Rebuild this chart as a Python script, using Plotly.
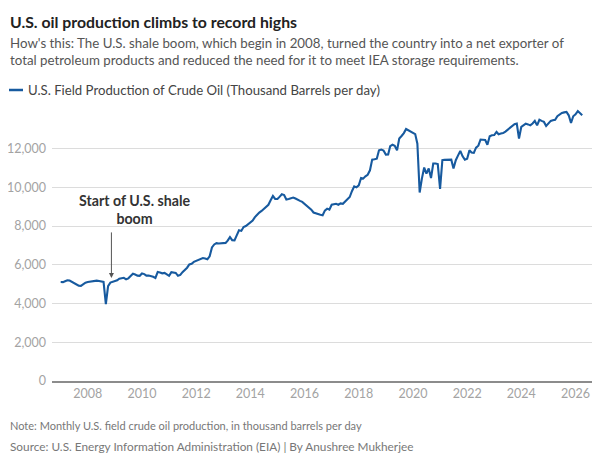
import pandas as pd
import plotly.graph_objects as go

# monthly U.S. field crude oil production, thousand barrels per day
start_month = "2007-01-01"
production = [
    # 2007
    5110, 5105, 5150, 5200, 5190, 5130, 5060, 4990, 4920, 4910, 5000, 5080,
    # 2008
    5110, 5130, 5150, 5170, 5180, 5160, 5150, 5120, 3970, 4900, 5080, 5120,
    # 2009
    5170, 5200, 5280, 5290, 5330, 5250, 5300, 5420, 5540, 5500, 5440, 5430,
    # 2010
    5550, 5520, 5440, 5450, 5430, 5380, 5320, 5630, 5600, 5560, 5580, 5520,
    # 2011
    5430, 5620, 5600, 5580, 5430, 5480, 5620, 5720, 5850, 6020, 6050, 6150,
    # 2012
    6200, 6270, 6300, 6350, 6330, 6290, 6440, 6900, 7050, 7120, 7100, 7100,
    # 2013
    7100, 7130, 7250, 7430, 7270, 7260, 7520, 7780, 7750, 7950, 8000, 8100,
    # 2014
    8200, 8280, 8450, 8610, 8700, 8780, 8880, 8990, 9100, 9330, 9550, 9400,
    # 2015
    9400, 9520, 9640, 9600, 9370, 9400, 9440, 9470, 9420, 9380, 9300, 9250,
    # 2016
    9150, 9040, 8980, 8850, 8700, 8650, 8640, 8580, 8560, 8800, 8900, 8850,
    # 2017
    9100, 9120, 9150, 9100, 9170, 9150, 9250, 9380, 9500, 9800, 10050, 10000,
    # 2018
    10100, 10480, 10450, 10570, 10650, 10880, 11430, 11450, 11480, 11910, 11950, 11900,
    # 2019
    11690, 11700, 12130, 12200, 12150, 11910, 12520, 12650, 12800, 13010, 12950, 12900,
    # 2020
    12850, 12750, 12250, 9730, 10450, 11020, 10710, 10970, 10480, 11230, 11230, 11200,
    # 2021
    9920, 11400, 11420, 11430, 11430, 11430, 10970, 11400, 11650, 11880, 11600, 11430,
    # 2022
    11480, 11910, 11800, 11780, 12050, 12150, 12470, 12470, 12450, 12200, 12640, 12690,
    # 2023
    12700, 12860, 12740, 12780, 12800, 12880, 12980, 13050, 13150, 13260, 13290, 12520,
    # 2024
    13120, 13200, 13290, 13250, 13200, 13300, 13430, 13200, 13490, 13430, 13380, 13170,
    # 2025
    13300, 13430, 13460, 13490, 13670, 13760, 13840, 13870, 13890, 13720, 13320, 13670,
    # 2026
    13770, 13940, 13850, 13720,
]
months = pd.date_range(start_month, periods=len(production), freq="MS")

year_ticks = [f"{y}-01-01" for y in range(2008, 2027, 2)]
year_labels = [str(y) for y in range(2008, 2027, 2)]
value_ticks = [0, 2000, 4000, 6000, 8000, 10000, 12000]

series_name = "U.S. Field Production of Crude Oil (Thousand Barrels per day)"
title = "U.S. oil production climbs to record highs"
subtitle = ("How's this: The U.S. shale boom, which begin in 2008, turned the country into a net exporter of<br>"
            "total petroleum products and reduced the need for it to meet IEA storage requirements.")
note = "Note: Monthly U.S. field crude oil production, in thousand barrels per day"
source = "Source: U.S. Energy Information Administration (EIA) | By Anushree Mukherjee"
callout = "Start of U.S. shale<br>boom"

FONT = "Lato, 'Open Sans', sans-serif"
BLUE = "#175a9f"

# the page body adds an 8px margin, so the figure is sized/placed in page px minus 8
OFF = 8
W, H = 600 - 2 * OFF, 463 - 2 * OFF
# plot box in page pixels: left 52, right 592, top 106, bottom 381
L, R, T, B = 52 - OFF, 592 - OFF, 106 - OFF, 381 - OFF


def px(x):
    return (x - OFF - L) / (R - L)


def py(y):
    return (B - (y - OFF)) / (B - T)


fig = go.Figure()
fig.add_trace(go.Scatter(
    x=months, y=production, mode="lines", name=series_name,
    line=dict(color=BLUE, width=2.1), showlegend=False,
))

fig.update_layout(
    width=W, height=H,
    margin=dict(l=L, r=W - R, t=T, b=H - B, autoexpand=False),
    paper_bgcolor="white", plot_bgcolor="white",
    font=dict(family=FONT, color="#999999", size=13),
    xaxis=dict(
        range=["2006-09-06", "2026-08-11"],
        tickvals=year_ticks, ticktext=year_labels,
        showgrid=False, showline=True, linecolor="#8c8c8c", linewidth=2,
        ticks="", tickfont=dict(size=12.5, color="#a3a3a3"),
    ),
    yaxis=dict(
        range=[0, 14200], tickvals=value_ticks, tickformat=",",
        showgrid=True, gridcolor="#dcdcdc", gridwidth=1, zeroline=False,
        ticks="", tickfont=dict(size=12.5, color="#a3a3a3"), ticklabelstandoff=5,
    ),
)

annos = [
    dict(text=f"<b>{title}</b>", x=px(8), y=py(21), font=dict(size=15.8, color="#222222")),
    dict(text=subtitle, x=px(8), y=py(51), font=dict(size=13.3, color="#555555")),
    dict(text=series_name, x=px(26), y=py(90), font=dict(size=13.2, color="#444444")),
    dict(text=note, x=px(8), y=py(425), font=dict(size=11, color="#777777")),
    dict(text=source, x=px(8), y=py(446), font=dict(size=11.8, color="#777777")),
]
for a in annos:
    fig.add_annotation(xref="paper", yref="paper", xanchor="left", yanchor="middle",
                       align="left", showarrow=False, **a)

# shale boom callout
fig.add_annotation(
    x="2008-11-15", y=5320, ax="2008-11-15", ay=7750,
    xref="x", yref="y", axref="x", ayref="y",
    text="", showarrow=True, arrowhead=2, arrowsize=1, arrowwidth=1, arrowcolor="#555555",
)
fig.add_annotation(
    x="2009-09-28", y=8850, xref="x", yref="y", showarrow=False,
    text=f"<b>{callout}</b>", align="center",
    font=dict(size=14.2, color="#333333"),
)

# legend swatch
fig.add_shape(type="line", xref="paper", yref="paper",
              x0=px(9), x1=px(23), y0=py(90), y1=py(90),
              line=dict(color=BLUE, width=2.5))

fig.write_html("out.html")
